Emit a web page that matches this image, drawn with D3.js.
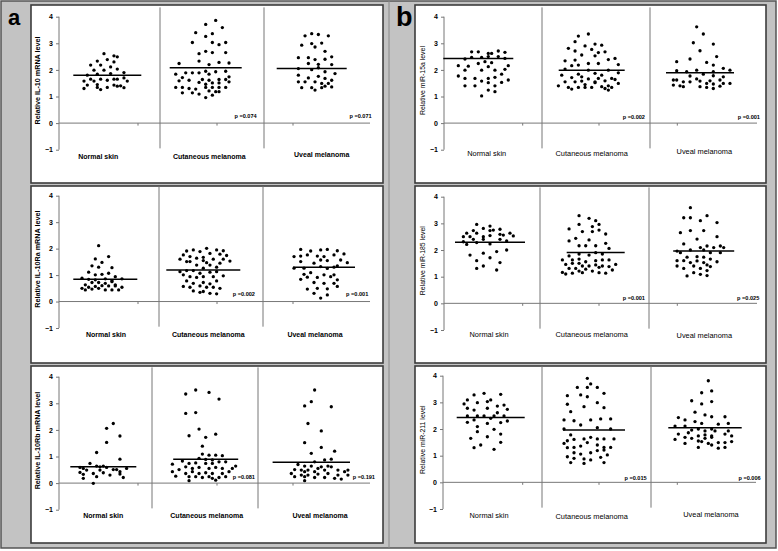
<!DOCTYPE html>
<html><head><meta charset="utf-8">
<script src="https://cdn.jsdelivr.net/npm/d3@7"></script>
<style>
html,body{margin:0;padding:0;background:#fff;}
svg{display:block;}
text{font-family:Arial,"Liberation Sans",sans-serif;}
</style></head>
<body>
<svg id="chart" width="778" height="551"></svg>
<script>
// ---------------- DATA ----------------
const categories = ["Normal skin", "Cutaneous melanoma", "Uveal melanoma"];
const yTicks = [-1, 0, 1, 2, 3, 4];
const panelLetters = ["a", "b"];
const yTitles = ["Relative IL-10 mRNA level", "Relative IL-10Ra mRNA level", "Relative IL-10Rb mRNA level",
                 "Relative miR-15a level", "Relative miR-185 level", "Relative miR-211 level"];
const pValues = [["p =0.074", "p =0.071"], ["p =0.002", "p =0.001"], ["p =0.081", "p =0.191"],
                 ["p =0.002", "p =0.001"], ["p =0.001", "p =0.025"], ["p =0.015", "p =0.006"]];
const groupMeans = [[1.8, 2.08, 2.05], [0.84, 1.19, 1.3], [0.61, 0.9, 0.78],
                    [2.43, 1.99, 1.89], [2.29, 1.91, 1.96], [2.43, 1.96, 2.05]];

// points: [jitter, value]
const il10Normal = [[-1,2.61],[2,2.53],[3,2.49],[-3,2.33],[0,2.39],[2,2.3],[-5,2.18],[-2,2.18],[1,2.11],[-4,1.99],[-1,1.99],[3,2.03],[-6,1.8],[-3,1.84],[1,1.86],[5,1.9],[-7,1.58],[-5,1.65],[-4,1.58],[-2,1.65],[0,1.61],[2,1.65],[3,1.65],[5,1.7],[6,1.58],[-6,1.43],[-3,1.45],[2,1.43],[4,1.4],[-7,1.3],[-3,1.34],[-2,1.26],[0,1.34],[3,1.39],[5,1.33]];
const il10Cut = [[3,3.86],[0,3.71],[5,3.59],[-3,3.4],[0,3.26],[2,3.36],[-4,3.03],[2,3.03],[6,3.03],[4,2.95],[-2,2.61],[0,2.7],[2,2.65],[6,2.65],[-2,2.33],[-8,2.24],[1,2.2],[4,2.28],[7,2.26],[-6,1.89],[-4,1.89],[-2,1.89],[0,1.95],[1,1.84],[3,1.93],[6,1.95],[-9,1.84],[7,1.74],[-7,1.71],[-5,1.61],[-1,1.64],[1,1.61],[4,1.64],[6,1.64],[-8,1.59],[-2,1.53],[0,1.46],[2,1.51],[4,1.51],[7,1.55],[-9,1.34],[-7,1.34],[-5,1.3],[-3,1.28],[0,1.34],[2,1.34],[4,1.34],[6,1.34],[-7,1.14],[-4,1.14],[-2,1.09],[1,1.21],[3,1.18],[2,1.05],[0,0.96],[4,1.18]];
const il10Uveal = [[0,3.36],[-2,3.28],[2,3.33],[5,3.28],[-3,2.93],[0,2.99],[3,3.01],[1,2.86],[4,2.7],[-4,2.46],[-1,2.46],[1,2.39],[4,2.4],[6,2.49],[-1,2.24],[2,2.21],[6,2.2],[-4,2.05],[0,2.01],[2,2.08],[4,1.93],[7,1.86],[-4,1.8],[-1,1.7],[2,1.76],[4,1.68],[6,1.61],[-4,1.55],[-2,1.55],[1,1.55],[3,1.49],[5,1.49],[-3,1.33],[0,1.33],[1,1.24],[3,1.33],[4,1.39],[6,1.36]];

const il10raNormal = [[-2,2.11],[1,1.7],[-3,1.61],[-1,1.48],[-4,1.35],[-2,1.3],[2,1.28],[-5,1.11],[-3,1.01],[-1,1.03],[1,1.07],[3,0.94],[-7,0.88],[-5,0.84],[-3,0.82],[0,0.86],[2,0.79],[5,0.86],[-4,0.72],[-2,0.72],[0,0.69],[2,0.75],[-6,0.63],[3,0.63],[-3,0.57],[-1,0.6],[1,0.59],[-7,0.5],[-5,0.54],[5,0.54],[-6,0.44],[-4,0.47],[-2,0.5],[0,0.44],[2,0.44],[4,0.44],[3,0.59]];
const il10raCut = [[1,2.01],[-3,1.95],[4,1.95],[6,1.92],[-5,1.91],[-1,1.89],[-6,1.76],[2,1.82],[5,1.79],[7,1.74],[-4,1.7],[-2,1.64],[0,1.67],[-7,1.6],[0,1.55],[3,1.6],[6,1.6],[8,1.53],[-5,1.51],[-4,1.51],[1,1.47],[5,1.45],[-2,1.38],[2,1.38],[4,1.3],[0,1.26],[-5,1.17],[-7,1.13],[-3,1.17],[-1,1.07],[2,1.11],[4,1.13],[-6,1.01],[-4,0.94],[-2,0.91],[0,0.94],[3,0.94],[6,0.97],[-5,0.78],[-3,0.69],[0,0.72],[2,0.67],[4,0.78],[-6,0.57],[-4,0.54],[-1,0.59],[1,0.54],[3,0.54],[-3,0.4],[-1,0.35],[0,0.38],[2,0.31],[4,0.29],[5,0.5]];
const il10raUveal = [[-7,1.97],[-4,1.91],[-1,1.95],[1,1.97],[4,1.92],[-9,1.7],[-7,1.72],[-5,1.76],[-2,1.72],[0,1.7],[3,1.76],[6,1.8],[-7,1.51],[-3,1.45],[-1,1.57],[1,1.55],[5,1.57],[7,1.47],[-6,1.26],[-9,1.26],[-1,1.32],[1,1.25],[3,1.3],[4,1.35],[-4,1.09],[-6,1.03],[0,1.01],[3,1.01],[-5,0.92],[-2,0.91],[2,0.94],[-7,0.84],[4,0.82],[-3,0.72],[0,0.69],[3,0.69],[-5,0.47],[-2,0.5],[1,0.48],[4,0.57],[-3,0.31],[1,0.25],[-1,0.13]];

const il10rbNormal = [[3,2.24],[1,2.06],[5,1.77],[1,1.53],[-2,1.15],[5,0.9],[-4,0.74],[-6,0.55],[-7,0.4],[-5,0.49],[-2,0.64],[-1,0.61],[0,0.64],[1,0.59],[-1,0.49],[-3,0.36],[-2,0.24],[-6,0.33],[-6,0.18],[2,0.3],[3,0.51],[4,0.51],[5,0.43],[5,0.34],[6,0.21],[7,0.55],[-3,-0.01],[0,0.39],[-7,0.59]];
const il10rbCut = [[-3,3.5],[-6,3.35],[1,3.41],[4,3.16],[-6,2.62],[-3,2.65],[-2,2.03],[3,1.84],[-5,1.78],[0,1.72],[-1,1.39],[-1,1.09],[1,1.05],[3,1.05],[5,1.03],[-2,0.93],[0,0.89],[2,0.87],[-7,0.83],[-5,0.74],[-3,0.76],[0,0.74],[2,0.74],[4,0.8],[6,0.8],[-10,0.71],[-8,0.51],[-6,0.61],[-4,0.55],[-2,0.59],[1,0.55],[3,0.59],[5,0.55],[8,0.55],[9,0.64],[-9,0.26],[-10,0.43],[-6,0.36],[-4,0.43],[-2,0.36],[0,0.39],[2,0.36],[5,0.36],[7,0.43],[-5,0.24],[-3,0.24],[-1,0.21],[1,0.24],[4,0.21],[6,0.24],[2,0.18],[-5,0.09],[3,0.11]];
const il10rbUveal = [[1,3.5],[0,3.06],[-2,2.9],[6,2.87],[-1,2.24],[3,1.96],[-2,1.52],[3,1.34],[0,1.12],[7,1.2],[1,0.8],[4,0.87],[6,0.9],[-4,0.7],[-2,0.64],[0,0.64],[3,0.61],[6,0.61],[2,0.55],[5,0.64],[-5,0.51],[-3,0.49],[-2,0.43],[-1,0.49],[1,0.43],[4,0.49],[8,0.49],[11,0.49],[-6,0.36],[-3,0.3],[-1,0.3],[2,0.34],[5,0.36],[8,0.3],[11,0.3],[10,0.43],[-5,0.24],[-2,0.24],[1,0.21],[4,0.21],[7,0.18],[9,0.15],[-2,0.09]];

const mir15aNormal = [[-2,2.68],[0,2.68],[3,2.62],[4,2.62],[6,2.71],[8,2.66],[-4,2.41],[-2,2.47],[1,2.47],[3,2.5],[6,2.5],[8,2.43],[0,2.24],[2,2.31],[4,2.27],[-6,2.16],[-3,2.14],[3,2.12],[9,2.16],[-4,1.99],[1,1.99],[5,1.99],[8,2.02],[-6,1.77],[-1,1.68],[3,1.68],[5,1.72],[-4,1.68],[7,1.84],[9,1.62],[1,1.58],[7,1.53],[-1,1.4],[3,1.52],[5,1.4],[3,1.24],[5,1.18],[1,1.02],[-4,1.4]];
const mir15aCut = [[-1,3.35],[-4,3.27],[-5,3.06],[-2,2.9],[1,2.97],[3,2.93],[-7,2.81],[0,2.77],[-5,2.71],[2,2.65],[4,2.68],[-3,2.56],[1,2.53],[-8,2.34],[-5,2.37],[5,2.39],[7,2.43],[-1,2.24],[-4,2.18],[2,2.24],[8,2.2],[-8,2.03],[-6,2.16],[-1,1.99],[5,1.99],[1,1.87],[-4,1.84],[-9,1.8],[3,1.8],[8,1.89],[-3,1.74],[-6,1.71],[2,1.68],[6,1.68],[-1,1.66],[-8,1.55],[-5,1.55],[-3,1.58],[1,1.55],[4,1.59],[7,1.64],[8,1.49],[-2,1.45],[5,1.4],[-10,1.4],[-7,1.34],[-6,1.28],[-4,1.34],[-2,1.34],[0,1.34],[3,1.37],[4,1.3],[6,1.34],[5,1.24],[1,1.52]];
const mir15aUveal = [[-1,3.62],[1,3.35],[-2,3.02],[4,2.97],[0,2.72],[5,2.5],[-3,2.41],[-7,2.31],[2,2.28],[4,2.18],[-1,1.99],[-7,1.97],[-4,1.93],[4,1.93],[7,2.06],[9,1.99],[1,1.84],[-3,1.77],[4,1.78],[7,1.74],[-8,1.62],[-7,1.62],[-1,1.66],[3,1.59],[6,1.62],[-5,1.55],[-3,1.55],[0,1.58],[2,1.49],[4,1.47],[7,1.49],[9,1.49],[-8,1.43],[-6,1.4],[-5,1.37],[0,1.37],[2,1.34],[4,1.3],[6,1.39]];

const mir185Normal = [[-4,2.96],[0,2.9],[-2,2.81],[3,2.78],[-5,2.73],[0,2.73],[1,2.75],[-7,2.63],[-4,2.63],[4,2.56],[6,2.63],[7,2.53],[-8,2.5],[-6,2.5],[-2,2.5],[0,2.54],[3,2.59],[-5,2.4],[-2,2.4],[3,2.4],[-8,2.31],[5,2.34],[-7,2.21],[-4,2.28],[0,2.23],[-6,1.81],[-2,1.88],[2,1.94],[5,2.0],[0,1.71],[-4,1.6],[3,1.53],[-2,1.4],[-4,1.31],[2,1.25]];
const mir185Cut = [[-5,3.29],[-2,3.19],[0,3.1],[-5,2.96],[1,2.96],[-8,2.79],[-1,2.88],[-4,2.69],[-1,2.69],[1,2.75],[3,2.6],[-8,2.34],[-6,2.44],[-2,2.38],[-5,2.16],[-3,2.16],[0,2.16],[3,2.25],[4,2.06],[-8,1.78],[-5,1.85],[-2,1.81],[0,1.9],[2,1.85],[-10,1.63],[-7,1.63],[-5,1.66],[-3,1.56],[0,1.6],[2,1.63],[4,1.63],[-9,1.46],[-7,1.5],[-5,1.5],[-4,1.4],[-2,1.4],[0,1.44],[2,1.4],[6,1.46],[-8,1.31],[-6,1.31],[-3,1.28],[4,1.38],[5,1.25],[-10,1.16],[-9,1.1],[-7,1.13],[-5,1.21],[-4,1.15],[-1,1.21],[1,1.15],[3,1.13],[1,1.35]];
const mir185Uveal = [[-4,3.59],[-6,3.21],[-4,3.21],[1,3.29],[-1,3.1],[4,3.03],[-7,2.65],[-4,2.73],[0,2.73],[-2,2.41],[4,2.5],[-6,2.23],[1,2.15],[5,2.15],[-8,1.96],[-7,1.9],[-4,2.0],[-1,2.09],[0,2.0],[3,2.09],[6,2.09],[2,1.9],[5,1.9],[-5,1.73],[-2,1.75],[0,1.73],[2,1.66],[-8,1.6],[-6,1.6],[-4,1.53],[-2,1.59],[0,1.53],[4,1.56],[-8,1.4],[-3,1.4],[1,1.44],[-6,1.31],[-1,1.31],[2,1.38],[-3,1.15],[1,1.23],[-1,1.09],[-5,1.03],[1,1.04]];

const mir211Normal = [[-2,3.34],[-5,3.28],[3,3.3],[0,3.09],[-7,3.09],[-8,2.94],[-4,2.99],[-1,3.03],[4,2.9],[2,2.86],[5,2.74],[-7,2.78],[-5,2.71],[-1,2.78],[2,2.61],[4,2.49],[-7,2.49],[-4,2.49],[-2,2.49],[1,2.49],[0,2.4],[-7,2.25],[-5,2.34],[-1,2.21],[3,2.24],[5,2.3],[-4,2.09],[1,1.99],[-4,1.9],[3,1.81],[-6,1.65],[-1,1.71],[3,1.5],[-3,1.4],[-5,1.3],[1,1.24]];
const mir211Cut = [[-2,3.9],[-1,3.69],[-5,3.56],[-2,3.56],[1,3.56],[-8,3.25],[-4,3.28],[-2,3.21],[3,3.34],[-8,2.93],[-3,2.84],[1,2.99],[-7,2.65],[3,2.8],[-9,2.34],[-6,2.31],[-4,2.15],[-1,2.34],[2,2.38],[5,2.38],[1,2.05],[5,2.0],[-9,2.0],[-7,1.78],[-9,1.46],[-8,1.56],[-6,1.61],[-3,1.63],[-1,1.69],[1,1.63],[3,1.63],[6,1.63],[-8,1.3],[-6,1.31],[-4,1.36],[-2,1.49],[1,1.4],[3,1.31],[5,1.31],[-6,1.11],[-4,1.06],[-1,1.11],[1,1.19],[3,1.21],[-8,0.96],[-6,0.9],[-3,0.88],[-1,0.84],[2,0.94],[4,1.03],[-7,0.74],[-3,0.71],[3,0.74]];
const mir211Uveal = [[1,3.81],[-1,3.36],[2,3.43],[-4,3.06],[2,3.03],[-1,2.94],[-3,2.63],[0,2.53],[2,2.46],[6,2.46],[-8,2.43],[-6,2.34],[-3,2.28],[-1,2.21],[4,2.18],[7,2.21],[-9,2.11],[-6,2.11],[2,2.0],[-4,1.96],[-2,2.0],[0,1.93],[3,1.93],[7,1.93],[-8,1.81],[-5,1.86],[-2,1.74],[0,1.78],[2,1.74],[6,1.81],[8,1.74],[-9,1.61],[-6,1.69],[-4,1.65],[-2,1.55],[0,1.65],[2,1.69],[4,1.49],[6,1.49],[-6,1.46],[-1,1.53],[1,1.46],[8,1.53],[-2,1.31],[2,1.4],[4,1.28],[6,1.31]];

const panelPoints = [
  [il10Normal, il10Cut, il10Uveal],
  [il10raNormal, il10raCut, il10raUveal],
  [il10rbNormal, il10rbCut, il10rbUveal],
  [mir15aNormal, mir15aCut, mir15aUveal],
  [mir185Normal, mir185Cut, mir185Uveal],
  [mir211Normal, mir211Cut, mir211Uveal]
];

// ---------------- LAYOUT ----------------
const layout = [
  {box:[31,5,383,183], axisX:59, axisEnd:370, yR:[149.7,16.7], centers:[107.3,205.7,311.7], hw:[34,36,35], seps:[160,264], lx:[98.3,209.3,321.7], ly:[35.5,35.5,34], pR:[256.7,371.7], pY:116, xt:[138,217,293], bold:true, titleX:40},
  {box:[31,186,383,363], axisX:59, axisEnd:370, yR:[328,195.7], centers:[105.3,203.3,324], hw:[32,37,31], seps:[159,263], lx:[106,208.3,315], ly:[35.5,35.5,35.5], pR:[255,368.3], pY:293.5, xt:[138,217,293], bold:true, titleX:40},
  {box:[31,366,383,543], axisX:59, axisEnd:370, yR:[509.7,376.7], centers:[103.3,205.7,311.3], hw:[33,32.5,38.7], seps:[152,258], lx:[103.3,206.7,320], ly:[35,35,35], pR:[255,375], pY:477, xt:[138,217,293], bold:true, titleX:40},
  {box:[415,5,766,183], axisX:444, axisEnd:757, yR:[149.7,16.7], centers:[478.3,591.7,700], hw:[35,33,34], seps:[542,650], lx:[486.7,591.7,704.3], ly:[33,33,31], pR:[645,760], pY:116.5, xt:[522.7,599,677.3], bold:false, titleX:424.5},
  {box:[415,186,766,363], axisX:444, axisEnd:757, yR:[330,196.7], centers:[490,595.7,703.7], hw:[35,29,30.5], seps:[540,649], lx:[489,591.7,704.3], ly:[34,34,34.5], pR:[645,759.3], pY:297.5, xt:[522.7,599,677.3], bold:false, titleX:424.5},
  {box:[415,366,766,543], axisX:443, axisEnd:756, yR:[509,375.7], centers:[490.7,594,705], hw:[34,31,36.7], seps:[542,651], lx:[489,591.7,711], ly:[36,37,35], pR:[646.7,760.7], pY:477.5, xt:[522.7,599,677.3], bold:false, titleX:424.5}
];

const svg = d3.select("#chart");
const FONT = 'Arial,"Liberation Sans",sans-serif';

// background
svg.append("rect").attr("x",0).attr("y",0).attr("width",778).attr("height",551).attr("fill","#fff");
svg.append("rect").attr("x",1).attr("y",1).attr("width",775).attr("height",547)
  .attr("fill","#c3c3c3").attr("stroke","#555").attr("stroke-width",1.5);
svg.append("line").attr("x1",389).attr("x2",389).attr("y1",1).attr("y2",548).attr("stroke","#888").attr("stroke-width",1);

// panel letters
svg.append("text").attr("x",8).attr("y",25).attr("font-size",22).attr("font-weight","bold").attr("font-family",FONT).attr("fill","#000").text(panelLetters[0]);
svg.append("text").attr("x",396).attr("y",25.5).attr("font-size",27).attr("font-weight","bold").attr("font-family",FONT).attr("fill","#000").text(panelLetters[1]);

const jitter = d3.scaleLinear().domain([-10,10]).range([-33.3,33.3]);

layout.forEach((L, pi) => {
  const g = svg.append("g");
  const [bx0, by0, bx1, by1] = L.box;
  g.append("rect").attr("x",bx0).attr("y",by0).attr("width",bx1-bx0).attr("height",by1-by0)
    .attr("fill","#fff").attr("stroke","#3c3c3c").attr("stroke-width",1.6);

  const y = d3.scaleLinear().domain([-1,4]).range(L.yR);
  const xCat = d3.scaleOrdinal().domain(categories).range(L.centers);

  // separators
  L.seps.forEach(sx => {
    g.append("line").attr("x1",sx).attr("x2",sx).attr("y1",y(4.35)).attr("y2",y(-0.95))
      .attr("stroke","#777").attr("stroke-width",1);
  });

  // y axis
  const yAxis = d3.axisLeft(y).tickValues(yTicks).tickSize(3).tickPadding(3).tickFormat(d3.format("d"));
  const ya = g.append("g").attr("transform",`translate(${L.axisX},0)`).call(yAxis);
  ya.select(".domain").attr("stroke","#777").attr("d",`M-0,${y(4)}V${y(-1)}`);
  ya.selectAll(".tick line").attr("stroke","#777");
  ya.selectAll(".tick text").attr("font-size",7).attr("font-weight","bold").attr("font-family",FONT).attr("fill","#000");

  // x axis line at 0
  g.append("line").attr("x1",L.axisX).attr("x2",L.axisEnd).attr("y1",y(0)).attr("y2",y(0))
    .attr("stroke","#777").attr("stroke-width",1);
  L.xt.forEach(tx => {
    g.append("line").attr("x1",tx).attr("x2",tx).attr("y1",y(0)).attr("y2",y(0)+2.5).attr("stroke","#777");
  });

  // y title
  g.append("text").attr("transform",`translate(${L.titleX},${y(1.6)}) rotate(-90)`)
    .attr("text-anchor","middle").attr("font-size",L.bold?7.2:6.9).attr("font-weight",L.bold?"bold":"normal")
    .attr("font-family",FONT).attr("fill","#000").text(yTitles[pi]);

  // category labels
  categories.forEach((c, ci) => {
    g.append("text").attr("x",L.lx[ci]).attr("y",y(0)+L.ly[ci]).attr("text-anchor","middle")
      .attr("font-size",L.bold?7:7.4).attr("font-weight",L.bold?"bold":"normal")
      .attr("font-family",FONT).attr("fill","#000").text(c);
  });

  // points
  panelPoints[pi].forEach((pts, ci) => {
    const cx = xCat(categories[ci]);
    g.append("g").selectAll("circle").data(pts).join("circle")
      .attr("cx", d => cx + jitter(d[0]))
      .attr("cy", d => y(d[1]))
      .attr("r", 1.65).attr("fill","#000");
    // mean line
    g.append("line").attr("x1",cx-L.hw[ci]).attr("x2",cx+L.hw[ci])
      .attr("y1",y(groupMeans[pi][ci])).attr("y2",y(groupMeans[pi][ci]))
      .attr("stroke","#000").attr("stroke-width",1.5);
  });

  // p-values
  pValues[pi].forEach((p, k) => {
    g.append("text").attr("x",L.pR[k]).attr("y",L.pY+2).attr("text-anchor","end")
      .attr("font-size",5.6).attr("font-weight","bold").attr("font-family",FONT).attr("fill","#000").text(p);
  });
});
</script>
</body></html>
